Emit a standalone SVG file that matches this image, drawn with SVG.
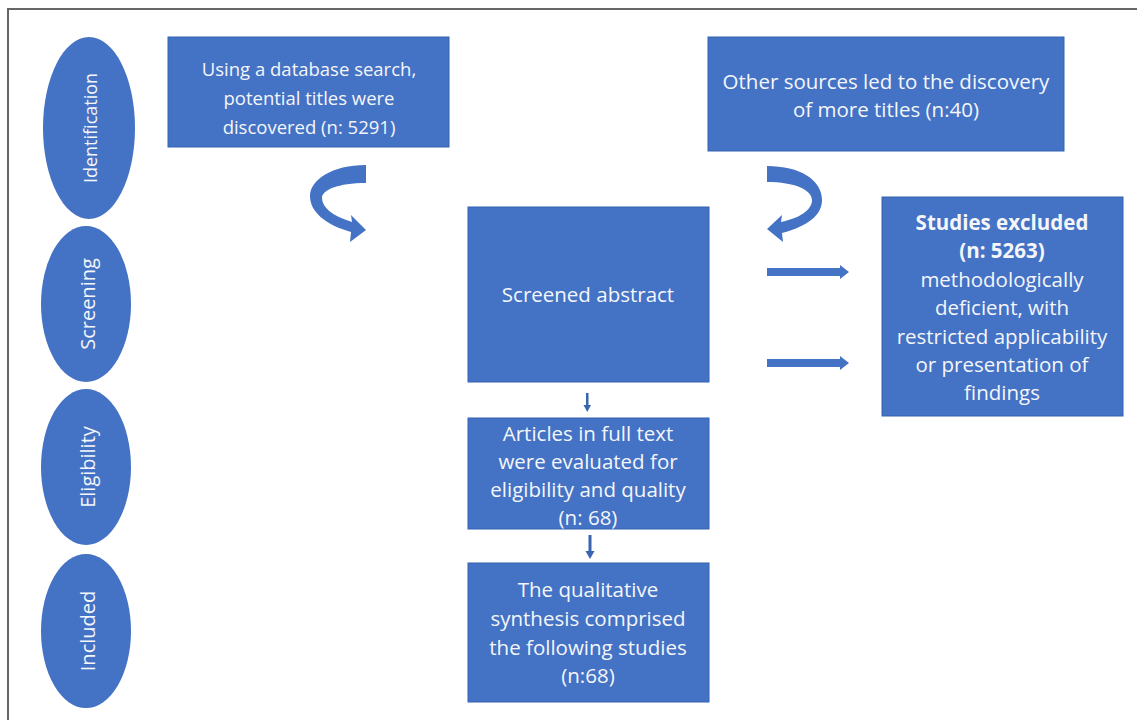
<svg xmlns="http://www.w3.org/2000/svg" width="1137" height="720" viewBox="0 0 1137 720">
<style>
.box{fill:#4472C4;stroke:#3563B0;stroke-width:1}
.ell{fill:#4472C4}
.t{font-family:"Open Sans","Liberation Sans",sans-serif;font-size:20.5px;fill:#F4F6FA;text-anchor:middle;dominant-baseline:central}
.s{font-size:18.5px}
.b{font-weight:bold}
.v{font-family:"Open Sans","Liberation Sans",sans-serif;font-size:20px;fill:#F4F6FA;text-anchor:middle;dominant-baseline:central}
.arr{fill:#4472C4}
.thin{fill:#3A64AD}
</style>
<rect width="1137" height="720" fill="#FFFFFF"/>
<path d="M8,720 L8,9 L1137,9" fill="none" stroke="#666666" stroke-width="2"/>

<g id="stage-identification">
<ellipse class="ell" cx="89" cy="128" rx="46" ry="91"/>
<text class="v" style="font-size:18px" transform="translate(90,128) rotate(-90)">Identification</text>
</g>
<g id="stage-screening">
<ellipse class="ell" cx="86" cy="304" rx="45" ry="78"/>
<text class="v" transform="translate(87,304) rotate(-90)">Screening</text>
</g>
<g id="stage-eligibility">
<ellipse class="ell" cx="86" cy="467" rx="45" ry="78"/>
<text class="v" transform="translate(87,467) rotate(-90)">Eligibility</text>
</g>
<g id="stage-included">
<ellipse class="ell" cx="86" cy="631" rx="45" ry="77"/>
<text class="v" transform="translate(87,631) rotate(-90)">Included</text>
</g>

<g id="database">
<rect class="box" x="168" y="37" width="281" height="110"/>
<text class="t s" x="309" y="68">Using a database search,</text>
<text class="t s" x="309" y="97">potential titles were</text>
<text class="t s" x="309" y="126">discovered (n: 5291)</text>
</g>
<g id="other-sources">
<rect class="box" x="708" y="37" width="356" height="114"/>
<text class="t" x="886" y="81">Other sources led to the discovery</text>
<text class="t" x="886" y="109">of more titles (n:40)</text>
</g>
<g id="screened">
<rect class="box" x="468" y="207" width="241" height="175"/>
<text class="t" x="588" y="294">Screened abstract</text>
</g>
<g id="fulltext">
<rect class="box" x="468" y="418" width="241" height="111"/>
<text class="t" x="588" y="433">Articles in full text</text>
<text class="t" x="588" y="461">were evaluated for</text>
<text class="t" x="588" y="489">eligibility and quality</text>
<text class="t" x="588" y="517">(n: 68)</text>
</g>
<g id="included">
<rect class="box" x="468" y="563" width="241" height="139"/>
<text class="t" x="588" y="589">The qualitative</text>
<text class="t" x="588" y="618">synthesis comprised</text>
<text class="t" x="588" y="647">the following studies</text>
<text class="t" x="588" y="675">(n:68)</text>
</g>
<g id="excluded">
<rect class="box" x="882" y="197" width="241" height="219"/>
<text class="t b" x="1002" y="222">Studies excluded</text>
<text class="t b" x="1002" y="250">(n: 5263)</text>
<text class="t" x="1002" y="279">methodologically</text>
<text class="t" x="1002" y="307">deficient, with</text>
<text class="t" x="1002" y="336">restricted applicability</text>
<text class="t" x="1002" y="364">or presentation of</text>
<text class="t" x="1002" y="392">findings</text>
</g>

<g id="connectors">
<path class="arr" d="M366,165 C332,165 310,180 310,196 C310,212 326,225 351,232 L350,242 L366,230 L351,215 L352,222 C332,216 322,207 322,198 C322,190 338,183 366,183 Z"/>
<path class="arr" d="M767,166 C800,166 822,180 822,200 C822,215 808,226 782,233 L783,242 L767,229 L782,215 L781,222 C800,218 812,210 812,200 C812,190 795,182 767,182 Z"/>
<path class="arr" d="M767,268 L840,268 L840,265 L849,272 L840,279 L840,276 L767,276 Z"/>
<path class="arr" d="M767,359 L840,359 L840,356 L849,363 L840,370 L840,367 L767,367 Z"/>
<path class="thin" d="M586,393 L588.5,393 L588.5,405 L591,405 L587.25,412 L583.5,405 L586,405 Z"/>
<path class="thin" d="M588.5,535 L591.5,535 L591.5,551 L594.5,551 L590,559 L585.5,551 L588.5,551 Z"/>
</g>
</svg>
